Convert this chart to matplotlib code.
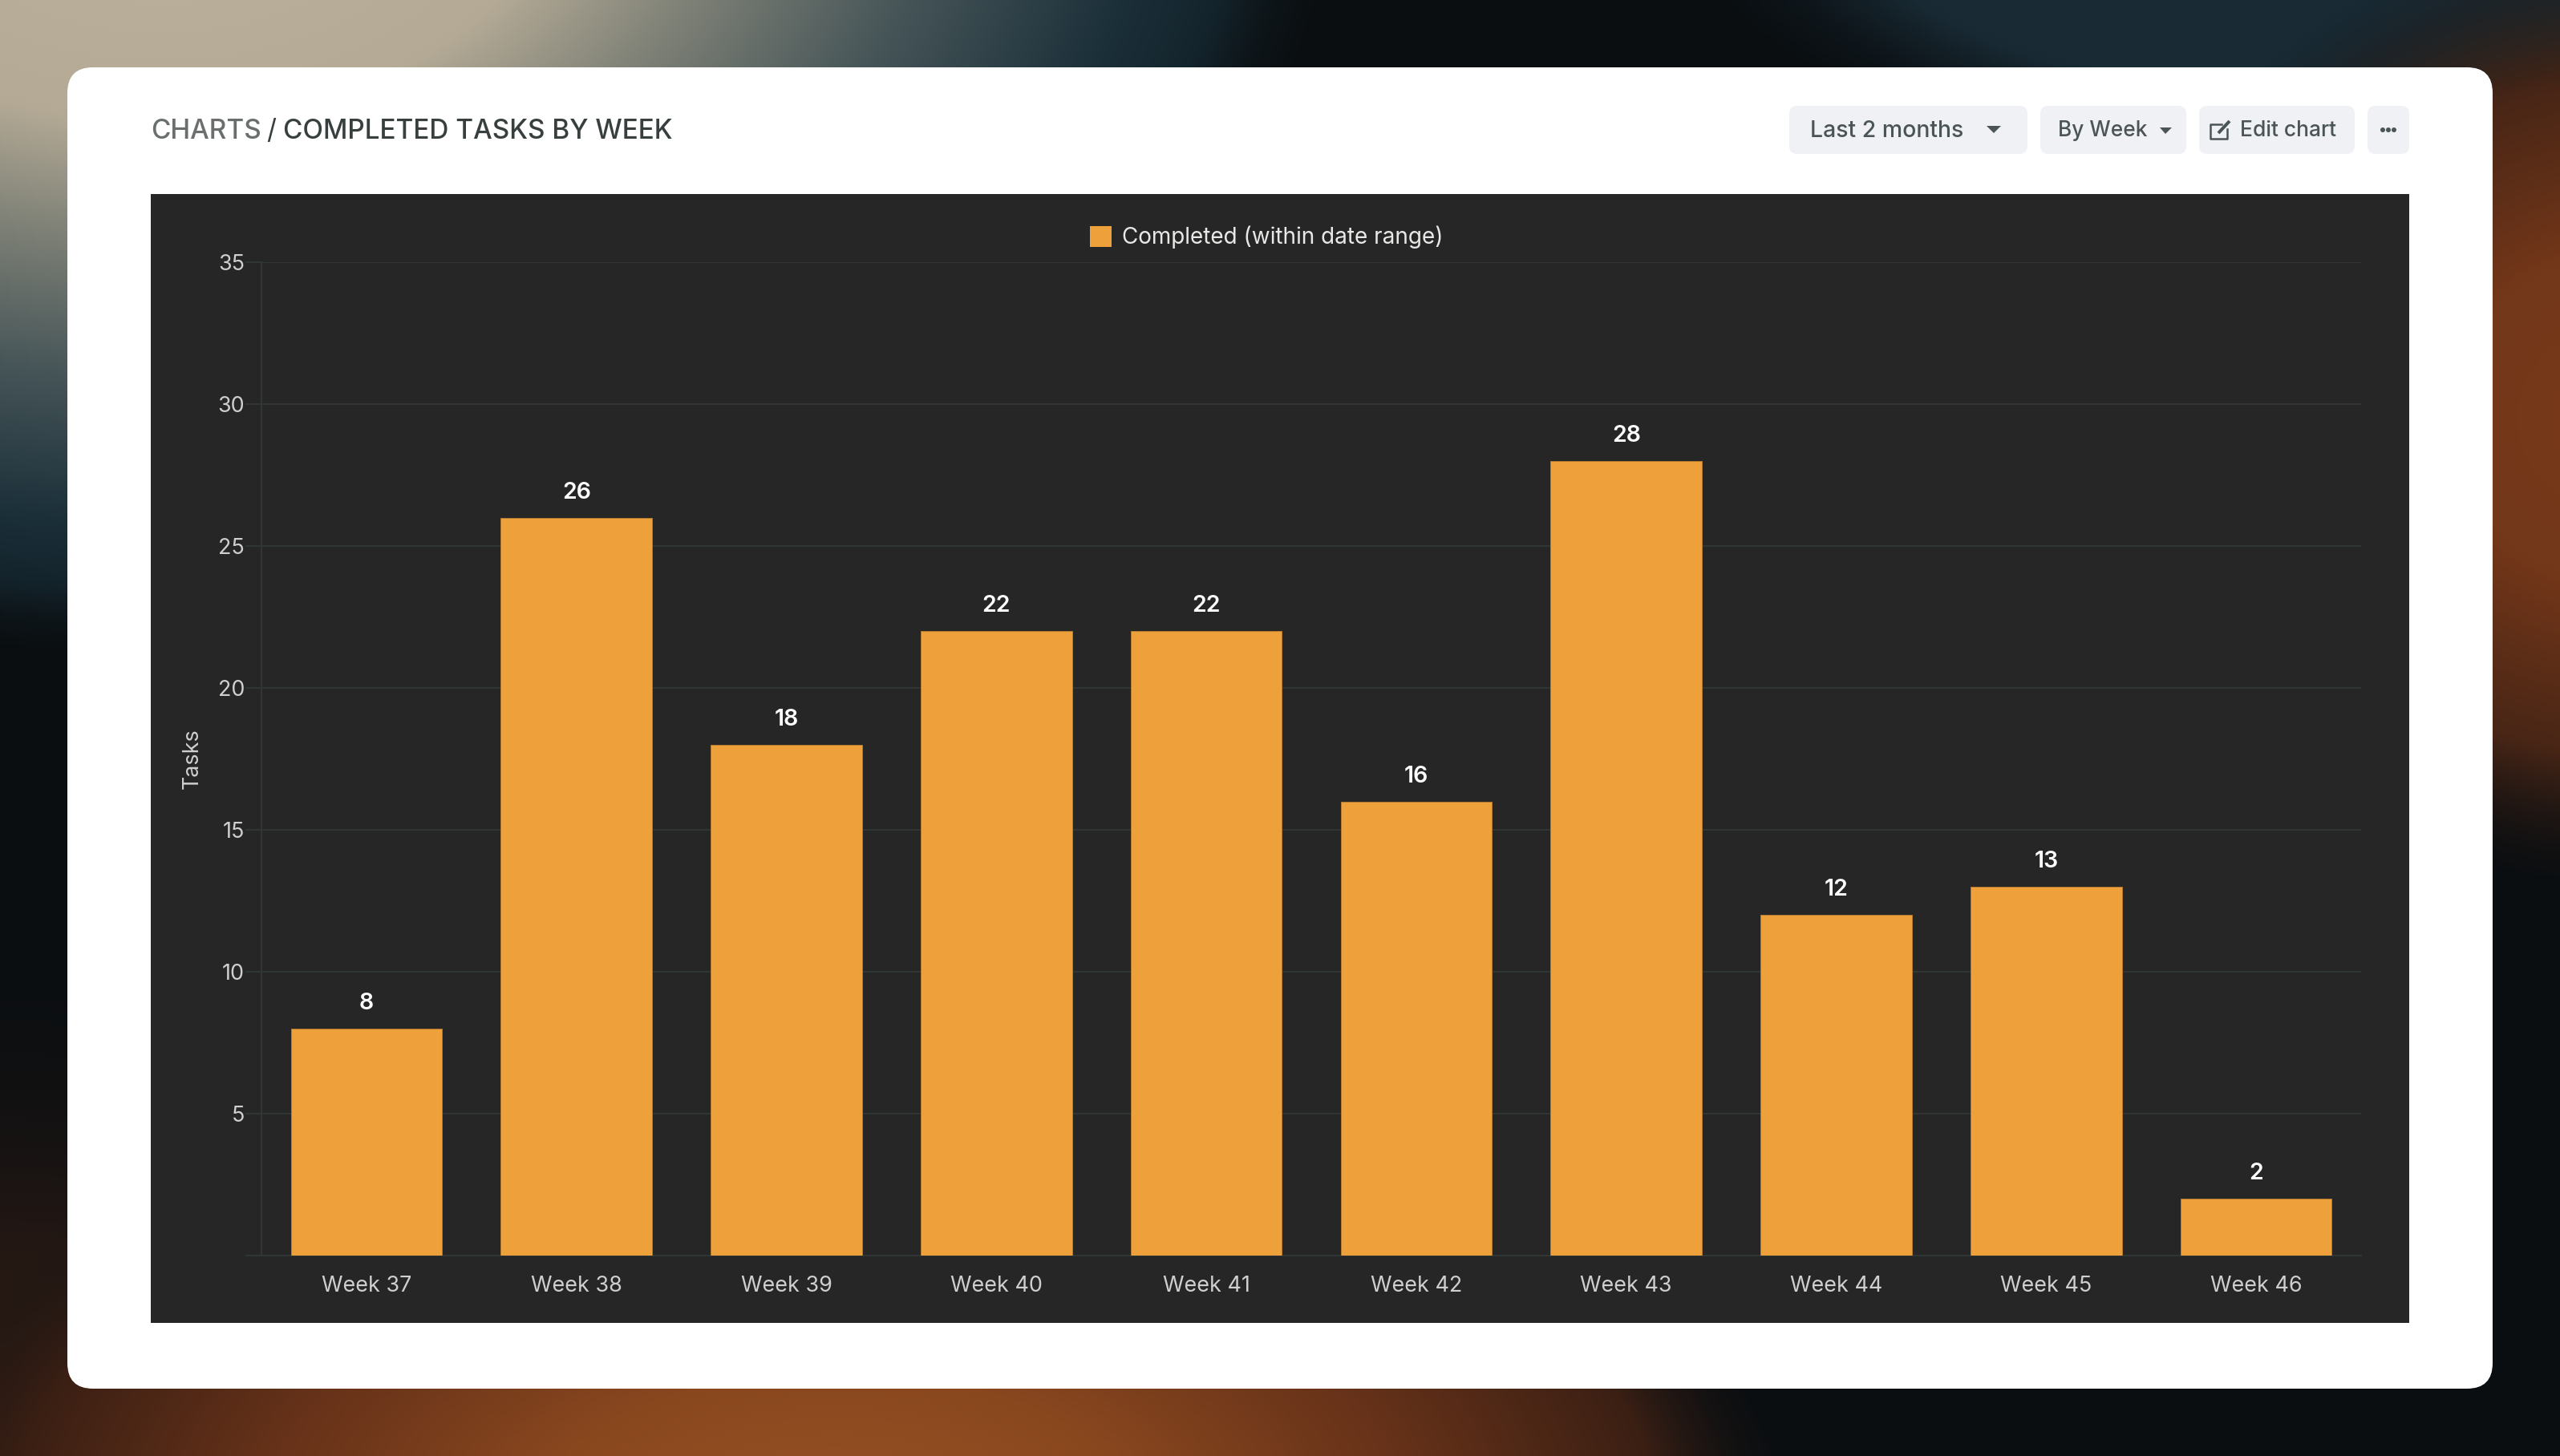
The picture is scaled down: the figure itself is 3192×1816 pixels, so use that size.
import numpy as np
import matplotlib
matplotlib.use('Agg')
import matplotlib.pyplot as plt
from matplotlib.patches import FancyBboxPatch, Polygon, Rectangle, Circle

W, H = 3192, 1816
DPI = 100

weeks = ['Week 37', 'Week 38', 'Week 39', 'Week 40', 'Week 41',
         'Week 42', 'Week 43', 'Week 44', 'Week 45', 'Week 46']
completed = [8, 26, 18, 22, 22, 16, 28, 12, 13, 2]
y_ticks = [0, 5, 10, 15, 20, 25, 30, 35]
y_tick_labels = ['', '5', '10', '15', '20', '25', '30', '35']

BAR = '#eea13b'
PANEL = '#262626'
GRID = '#303635'
TICK_TEXT = '#cfd0ce'
FONT = 'Inter'

plt.rcParams['font.family'] = [FONT, 'DejaVu Sans']


def px(v):
    # pixels to points
    return v * 72 / DPI


def add_glow(img, cx, cy, rx, ry, stops, colors, alphas):
    # paint one elliptical glow over the backdrop
    yy, xx = np.mgrid[0:H // 4, 0:W // 4] * 4.0
    d = np.hypot((xx - cx) / rx, (yy - cy) / ry)
    a = np.interp(d, stops, alphas)[..., None]
    c = np.stack([np.interp(d, stops, [col[i] for col in colors]) for i in range(3)], axis=-1)
    return img * (1 - a) + c * a


def make_backdrop():
    img = np.ones((H // 4, W // 4, 3)) * np.array([10, 14, 17], dtype=float)
    # blue haze top right
    img = add_glow(img, 2850, -150, 800, 380, [0, .7, 1],
                   [(25, 42, 52), (25, 42, 52), (14, 20, 24)], [1, 1, 0])
    # dim brown bottom left
    img = add_glow(img, 0, 1950, 1000, 800, [0, .5, 1],
                   [(52, 29, 19), (36, 24, 20), (14, 16, 18)], [1, 1, 0])
    # orange bottom
    img = add_glow(img, 1040, 1880, 1200, 560, [0, .3, .6, .85, 1],
                   [(152, 82, 36), (138, 72, 31), (102, 50, 25), (60, 32, 20), (22, 20, 20)],
                   [1, 1, 1, 1, 0])
    # orange right edge
    img = add_glow(img, 3260, 520, 620, 600, [0, .35, .7, 1],
                   [(120, 58, 25), (115, 55, 25), (72, 38, 22), (22, 20, 20)], [1, 1, 1, 0])
    # beige top left fading through teal
    img = add_glow(img, 200, -200, 1450, 1000, [0, .35, .5, .67, .85, .93, 1.03],
                   [(190, 180, 160), (180, 170, 150), (125, 128, 118), (70, 85, 88),
                    (28, 48, 58), (20, 36, 44), (14, 18, 20)],
                   [1, 1, 1, 1, 1, 1, 0])
    return np.clip(img, 0, 255).astype(np.uint8)


fig = plt.figure(figsize=(W / DPI, H / DPI), dpi=DPI)

# page layer in pixel coordinates
page = fig.add_axes([0, 0, 1, 1], zorder=0)
page.set_xlim(0, W)
page.set_ylim(H, 0)
page.axis('off')
page.imshow(make_backdrop(), extent=(0, W, H, 0), aspect='auto', interpolation='bicubic', zorder=0)
page.set_xlim(0, W)
page.set_ylim(H, 0)

page.add_patch(FancyBboxPatch((84 + 32, 84 + 32), 3024 - 64, 1648 - 64,
                              boxstyle='round,pad=32,rounding_size=32',
                              fc='white', ec='none', zorder=1))
page.add_patch(Rectangle((188, 242), 2816, 1408, fc=PANEL, ec='none', zorder=2))

# header
page.text(188, 173, 'CHARTS', color='#6a6f6d', fontsize=24, fontweight='medium', va='baseline', zorder=3)
page.text(332, 173, '/', color='#37403f', fontsize=24, va='baseline', zorder=3)
page.text(353, 173, 'COMPLETED TASKS BY WEEK', color='#37403f', fontsize=24,
          fontweight='medium', va='baseline', zorder=3)

# header controls
for x0, x1 in [(2231, 2528), (2544, 2726), (2742, 2936), (2952, 3004)]:
    page.add_patch(FancyBboxPatch((x0 + 10, 142), x1 - x0 - 20, 40,
                                  boxstyle='round,pad=10,rounding_size=10',
                                  fc='#eff1f5', ec='none', zorder=3))
CTRL = '#4b5553'
page.text(2257, 171, 'Last 2 months', color=CTRL, fontsize=20.5, fontweight='medium', va='baseline', zorder=4)
page.text(2566, 170, 'By Week', color=CTRL, fontsize=18.9, fontweight='medium', va='baseline', zorder=4)
page.text(2793, 170, 'Edit chart', color=CTRL, fontsize=19, fontweight='medium', va='baseline', zorder=4)
page.add_patch(Polygon([(2477, 157), (2495, 157), (2486, 166)], fc=CTRL, ec='none', zorder=4))
page.add_patch(Polygon([(2693, 159), (2708, 159), (2700, 167)], fc=CTRL, ec='none', zorder=4))
for cx in (2971, 2978, 2985):
    page.add_patch(Circle((cx, 162), 3, fc=CTRL, ec='none', zorder=4))

# edit icon
page.plot([2770, 2756, 2756, 2777, 2777], [155, 155, 173, 173, 161], color=CTRL, lw=px(2.5), zorder=4)
page.plot([2766, 2780], [166, 151], color=CTRL, lw=px(4), solid_capstyle='butt', zorder=4)

# legend
page.add_patch(Rectangle((1359, 282), 27, 26, fc=BAR, ec='none', zorder=3))
page.text(1399, 304, 'Completed (within date range)', color='#e8e8e6', fontsize=20.1, va='baseline', zorder=3)

# chart
ax = fig.add_axes([326 / W, 1 - 1566 / H, (2944 - 326) / W, (1566 - 327) / H], zorder=2)
ax.patch.set_alpha(0)
x = np.arange(len(weeks))
bars = ax.bar(x, completed, width=0.72, color=BAR, edgecolor='#b27a30', linewidth=px(1), zorder=3)
ax.bar_label(bars, labels=[str(v) for v in completed], padding=px(18), color='white',
             fontsize=20.5, fontweight='semibold')

ax.set_xlim(-0.5, len(weeks) - 0.5)
ax.set_ylim(0, 35)
ax.set_xticks(x, weeks)
ax.set_yticks(y_ticks, y_tick_labels)
ax.tick_params(axis='x', length=0, pad=px(25), labelsize=19.4, labelcolor=TICK_TEXT)
ax.tick_params(axis='y', length=px(20), width=px(2), color=GRID, pad=px(1), labelsize=19.4, labelcolor=TICK_TEXT)
ax.grid(axis='y', color=GRID, linewidth=px(2), zorder=1)
ax.set_axisbelow(True)
for side in ('top', 'right'):
    ax.spines[side].set_visible(False)
for side in ('left', 'bottom'):
    ax.spines[side].set_color(GRID)
    ax.spines[side].set_linewidth(px(2))
    ax.spines[side].set_zorder(2)

# y title sits at a fixed spot left of the tick labels
page.text(240, 946, 'Tasks', color=TICK_TEXT, fontsize=19.4, rotation=90, ha='center', va='center', zorder=3)

fig.savefig('out.png', dpi=DPI)
